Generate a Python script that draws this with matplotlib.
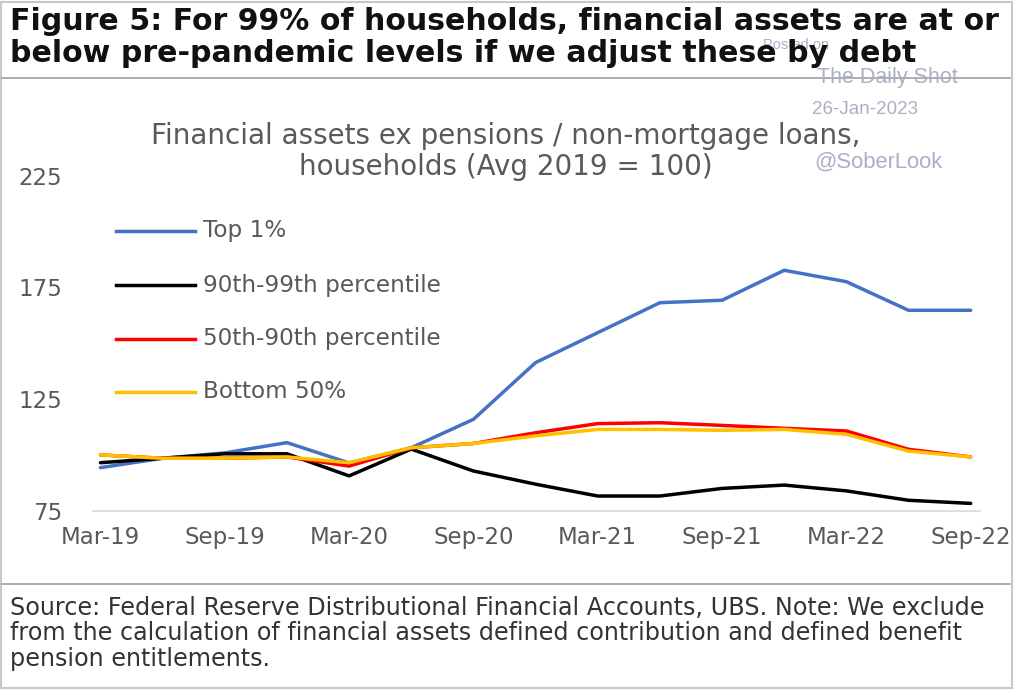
import matplotlib
matplotlib.use("Agg")
import matplotlib.pyplot as plt
from matplotlib.lines import Line2D
from matplotlib.patches import Rectangle

quarters = ["Mar-19", "Jun-19", "Sep-19", "Dec-19", "Mar-20", "Jun-20", "Sep-20", "Dec-20",
            "Mar-21", "Jun-21", "Sep-21", "Dec-21", "Mar-22", "Jun-22", "Sep-22"]
top1 = [94.4, 98.6, 101.0, 105.6, 96.5, 103.3, 116.0, 141.4, 154.8, 168.2, 169.3, 182.7, 177.6, 164.8, 164.8]
p90_99 = [96.6, 98.6, 100.6, 100.6, 90.7, 102.7, 92.9, 87.0, 81.7, 81.7, 85.1, 86.6, 84.0, 79.8, 78.4]
p50_90 = [100.1, 98.6, 98.6, 99.2, 95.1, 103.3, 105.2, 110.0, 114.1, 114.5, 113.3, 112.0, 110.8, 102.6, 99.2]
bottom50 = [100.1, 98.6, 98.6, 99.2, 96.6, 103.3, 105.2, 108.6, 111.5, 111.5, 111.1, 111.5, 109.3, 101.8, 99.2]
series_names = ["Top 1%", "90th-99th percentile", "50th-90th percentile", "Bottom 50%"]
series_colors = ["#4472C4", "#000000", "#FF0000", "#FFC000"]
yticks = [75, 125, 175, 225]
xtick_idx = [0, 2, 4, 6, 8, 10, 12, 14]

W, H = 1025, 696
plt.rcParams['font.family'] = ['DejaVu Sans']
fig = plt.figure(figsize=(W / 100, H / 100), dpi=100)
renderer = fig.canvas.get_renderer()

def fx(px):
    return px / W

def fy(py):
    return 1 - py / H

def fit(t, target_w):
    fs = t.get_fontsize()
    for _ in range(3):
        w = t.get_window_extent(renderer=renderer).width
        fs = fs * target_w / w
        t.set_fontsize(fs)
    return fs

# frame
fig.patches.append(Rectangle((fx(1), fy(688)), fx(1011), (687 - 1) / H, transform=fig.transFigure,
                             fill=False, edgecolor="#c8c8c8", lw=1.5))
fig.add_artist(Line2D([fx(2), fx(1010)], [fy(78), fy(78)], color="#a0a0a0", lw=1.2))
fig.add_artist(Line2D([fx(2), fx(1010)], [fy(584), fy(584)], color="#a0a0a0", lw=1.2))

# watermark (behind title)
wm = "#aab0c4"
wmf = ["Liberation Sans", "DejaVu Sans"]
fig.text(fx(796), fy(45), "Posted on", fontsize=10.5, color=wm, ha="center", va="center", family=wmf)
w1 = fig.text(fx(887), fy(78), "The Daily Shot", fontsize=14, color=wm, ha="center", va="center", family=wmf)
fit(w1, 141)
w2 = fig.text(fx(865), fy(109), "26-Jan-2023", fontsize=11, color=wm, ha="center", va="center", family=wmf)
fit(w2, 105)
w3 = fig.text(fx(878), fy(162), "@SoberLook", fontsize=14, color=wm, ha="center", va="center", family=wmf)
fit(w3, 129)

# title
t1 = fig.text(fx(10), fy(22), "Figure 5: For 99% of households, financial assets are at or",
              fontsize=20, fontweight="bold", color="#111111", va="center", ha="left")
tfs = fit(t1, 990)
fig.text(fx(10), fy(53), "below pre-pandemic levels if we adjust these by debt",
         fontsize=tfs, fontweight="bold", color="#111111", va="center", ha="left")

# axes: plot area x 93..980 px, y 150..511
ax = fig.add_axes([fx(93), fy(511), fx(980 - 93), (511 - 150) / H])
x = list(range(len(quarters)))
data = [top1, p90_99, p50_90, bottom50]
for vals, name, col in zip(data, series_names, series_colors):
    ax.plot(x, vals, color=col, lw=2.5, label=name, solid_capstyle="round", solid_joinstyle="round")

ax.set_xlim(-0.12, 14.15)
ax.set_ylim(75, 75 + (511 - 150) / 2.235)
ax.set_yticks(yticks)
ax.set_yticklabels([str(t) for t in yticks])
ax.set_xticks(xtick_idx)
ax.set_xticklabels([quarters[i] for i in xtick_idx])
ax.tick_params(axis="both", length=0, labelsize=16.5, colors="#595959")
ax.tick_params(axis="y", pad=22)
ax.tick_params(axis="x", pad=11)
for s in ["top", "right", "left"]:
    ax.spines[s].set_visible(False)
ax.spines["bottom"].set_color("#d9d9d9")
ax.spines["bottom"].set_linewidth(1.2)
ax.patch.set_alpha(0)

# inner title
it = fig.text(fx(506), fy(136), "Financial assets ex pensions / non-mortgage loans,",
              fontsize=18, color="#595959", ha="center", va="center")
ifs = fit(it, 708)
fig.text(fx(506), fy(167), "households (Avg 2019 = 100)",
         fontsize=ifs, color="#595959", ha="center", va="center")

# legend (manual)
leg_y = [231, 285, 339, 392]
leg_texts = []
for ly, name, col in zip(leg_y, series_names, series_colors):
    fig.add_artist(Line2D([fx(116), fx(195)], [fy(ly), fy(ly)], color=col, lw=2.5))
    leg_texts.append(fig.text(fx(203), fy(ly), name, fontsize=16, color="#595959",
                              ha="left", va="center"))
lfs = fit(leg_texts[1], 238)
for t in leg_texts:
    t.set_fontsize(lfs)

# source
src = ["Source: Federal Reserve Distributional Financial Accounts, UBS. Note: We exclude",
       "from the calculation of financial assets defined contribution and defined benefit",
       "pension entitlements."]
src_texts = []
for i, line in enumerate(src):
    src_texts.append(fig.text(fx(10), fy(608 + 25.5 * i), line, fontsize=14, color="#333333",
                              ha="left", va="center"))
sfs = fit(src_texts[0], 975)
for t in src_texts:
    t.set_fontsize(sfs)

fig.savefig("out.png", dpi=100)
